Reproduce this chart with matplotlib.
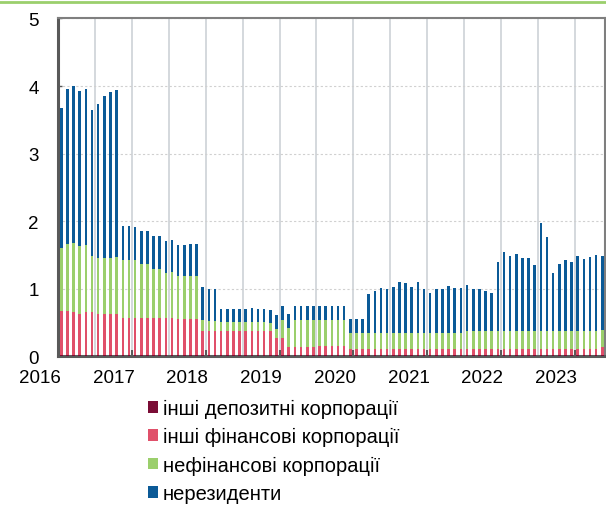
import numpy as np
import pandas as pd
import matplotlib
matplotlib.use('Agg')
import matplotlib.pyplot as plt
from matplotlib.lines import Line2D

plt.rcParams['font.family'] = ['Liberation Sans', 'DejaVu Sans']

# monthly data, one row per 12 months (first bar = Apr 2016)
months = pd.date_range('2016-04-01', periods=89, freq='MS')
years = ['2016', '2017', '2018', '2019', '2020', '2021', '2022', '2023']
labels = ['інші депозитні корпорації', 'інші фінансові корпорації',
          'нефінансові корпорації', 'нерезиденти']

other_dep = [0.02, 0.02, 0.02, 0.02, 0.02, 0.02, 0.02, 0.02, 0.02, 0.02, 0.02, 0.02,
             0.02, 0.02, 0.02, 0.02, 0.02, 0.02, 0.02, 0.02, 0.02, 0.02, 0.02, 0.02,
             0.02, 0.02, 0.02, 0.02, 0.02, 0.02, 0.02, 0.02, 0.02, 0.02, 0.02, 0.02,
             0.02, 0.02, 0.02, 0.02, 0.02, 0.02, 0.02, 0.02, 0.02, 0.02, 0.02, 0.02,
             0.02, 0.02, 0.02, 0.02, 0.02, 0.02, 0.02, 0.02, 0.02, 0.02, 0.02, 0.02,
             0.02, 0.02, 0.02, 0.02, 0.02, 0.02, 0.02, 0.02, 0.02, 0.02, 0.02, 0.02,
             0.02, 0.02, 0.02, 0.02, 0.02, 0.02, 0.02, 0.02, 0.02, 0.02, 0.02, 0.02,
             0.02, 0.02, 0.02, 0.02, 0.02]
other_fin = [0.65, 0.65, 0.64, 0.61, 0.63, 0.63, 0.60, 0.60, 0.60, 0.60, 0.55, 0.55,
             0.55, 0.55, 0.55, 0.55, 0.55, 0.55, 0.55, 0.53, 0.53, 0.53, 0.53, 0.35,
             0.35, 0.35, 0.35, 0.35, 0.35, 0.35, 0.35, 0.35, 0.35, 0.35, 0.35, 0.25,
             0.25, 0.12, 0.12, 0.12, 0.12, 0.12, 0.13, 0.13, 0.13, 0.13, 0.13, 0.08,
             0.08, 0.08, 0.08, 0.08, 0.08, 0.08, 0.08, 0.08, 0.08, 0.08, 0.08, 0.08,
             0.08, 0.09, 0.09, 0.09, 0.09, 0.09, 0.09, 0.09, 0.09, 0.09, 0.09, 0.09,
             0.09, 0.09, 0.09, 0.09, 0.09, 0.09, 0.09, 0.09, 0.09, 0.09, 0.09, 0.09,
             0.09, 0.09, 0.09, 0.09, 0.12]
nonfin = [0.93, 0.99, 1.01, 1.00, 0.99, 0.83, 0.84, 0.84, 0.84, 0.85, 0.86, 0.86,
          0.86, 0.79, 0.79, 0.72, 0.72, 0.66, 0.68, 0.64, 0.64, 0.64, 0.64, 0.17,
          0.15, 0.15, 0.14, 0.14, 0.14, 0.14, 0.14, 0.14, 0.13, 0.13, 0.12, 0.14,
          0.27, 0.28, 0.40, 0.40, 0.40, 0.40, 0.39, 0.39, 0.39, 0.39, 0.39, 0.25,
          0.25, 0.25, 0.24, 0.24, 0.24, 0.24, 0.24, 0.24, 0.24, 0.24, 0.24, 0.24,
          0.24, 0.24, 0.24, 0.24, 0.24, 0.24, 0.26, 0.26, 0.26, 0.26, 0.26, 0.26,
          0.26, 0.26, 0.26, 0.26, 0.26, 0.26, 0.26, 0.26, 0.26, 0.26, 0.26, 0.26,
          0.26, 0.26, 0.26, 0.26, 0.25]
nonres = [2.08, 2.30, 2.33, 2.30, 2.32, 2.17, 2.28, 2.39, 2.45, 2.47, 0.50, 0.50,
          0.49, 0.50, 0.50, 0.49, 0.49, 0.47, 0.47, 0.46, 0.46, 0.47, 0.47, 0.48,
          0.48, 0.47, 0.19, 0.19, 0.19, 0.19, 0.19, 0.20, 0.20, 0.20, 0.20, 0.20,
          0.20, 0.20, 0.20, 0.20, 0.21, 0.21, 0.20, 0.20, 0.20, 0.20, 0.20, 0.20,
          0.20, 0.20, 0.58, 0.62, 0.67, 0.66, 0.69, 0.76, 0.75, 0.68, 0.76, 0.66,
          0.59, 0.64, 0.64, 0.69, 0.66, 0.66, 0.68, 0.62, 0.62, 0.59, 0.57, 1.03,
          1.17, 1.12, 1.14, 1.09, 1.08, 0.98, 1.60, 1.40, 0.86, 1.00, 1.06, 1.03,
          1.12, 1.07, 1.10, 1.13, 1.10]

colors = ['#7A0C35', '#E0506A', '#9BCF6C', '#0B5A97']

fig = plt.figure(figsize=(6.06, 5.06), dpi=100)
ax = fig.add_axes([0.0957, 0.294, 0.9023, 0.6675])

x = np.arange(len(months))
bottom = np.zeros(len(months))
handles = []
for vals, col, lab in zip([other_dep, other_fin, nonfin, nonres], colors, labels):
    b = ax.bar(x, vals, width=0.42, bottom=bottom, color=col, label=lab, zorder=3)
    handles.append(b)
    bottom = bottom + np.array(vals)

ax.set_xlim(-0.54, 88.4)
ax.set_ylim(0, 5)
ax.set_yticks([0, 1, 2, 3, 4, 5])
ax.tick_params(axis='y', direction='in', length=3, width=1, color='#595959',
               labelsize=13.5, pad=14)
ax.yaxis.grid(True, linestyle=(0, (2, 2)), color='#D0D0D0', linewidth=0.8, zorder=0)

# half-year vertical grid, year ticks on bottom
for v in np.arange(5.5, 88, 6):
    ax.axvline(v, color='#C9CED3', linewidth=1.1, zorder=1)
ax.set_xticks(np.arange(11.5, 88, 12))
ax.set_xticklabels([])
ax.tick_params(axis='x', direction='in', length=4, width=1.5, color='#595959')
for k, yr in enumerate(years):
    ax.text(12 * k - 3.5, -0.062, yr, transform=ax.get_xaxis_transform(),
            ha='center', va='center', fontsize=13.5, clip_on=False)

for s in ['left', 'bottom']:
    ax.spines[s].set_color('#595959')
    ax.spines[s].set_linewidth(2.2)
for s in ['top', 'right']:
    ax.spines[s].set_color('#7F7F7F')
    ax.spines[s].set_linewidth(1.5)

fig.add_artist(Line2D([0, 1], [1 - 3 / 506, 1 - 3 / 506], color='#9BCF6C',
                      linewidth=2, transform=fig.transFigure))

fig.legend(handles=handles, loc='upper left', bbox_to_anchor=(148 / 606, 1 - 400 / 506),
           frameon=False, fontsize=14.5, handlelength=0.5, handleheight=0.5,
           handletextpad=0.25, labelspacing=0.46, borderpad=0, borderaxespad=0)

fig.savefig('out.png', dpi=100)
